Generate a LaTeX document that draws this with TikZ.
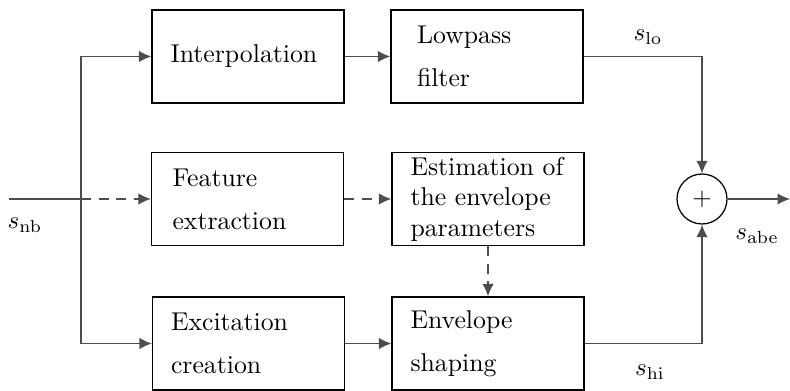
\documentclass[tikz,border=0pt]{standalone}
\usepackage{xcolor}
\usepackage{tikz}
\usepackage{amsmath}
\usetikzlibrary{
  arrows.meta,
  positioning,
  calc
}
\definecolor{bwLine}{HTML}{4D4D4D}
\definecolor{bwBox}{HTML}{000000}
\tikzset{
  bwbox/.style={
    draw=bwBox, minimum width=76.8pt, minimum height=37.2pt,
    text width=62pt, inner xsep=7.4pt, inner ysep=1.2pt, align=left,
    font=\fontsize{10.3}{12.2}\selectfont, line width=0.5pt
  },
  sumnode/.style={draw=bwBox, circle, minimum size=20pt, inner sep=0pt, line width=0.5pt},
  sig/.style={-{Latex[length=5pt, width=4.6pt]}, bwLine, line width=0.6pt},
  wire/.style={bwLine, line width=0.6pt},
  dsig/.style={sig, dash pattern=on 4pt off 3pt},
  tag/.style={font=\fontsize{10.3}{12.2}\selectfont, inner sep=1pt}
}
\begin{document}
\begin{tikzpicture}[x=0.4pt, y=-0.4pt]
  \useasboundingbox (0,0) rectangle (790,391);
  % blocks
  \node[bwbox] (interp) at (248,56.5) {Interpolation};
  \node[bwbox] (lowp)   at (487,56.5) {\hspace*{3pt}Lowpass\\[5pt]\hspace*{3pt}filter};
  \node[bwbox] (feat)   at (247.5,199) {\hspace*{1pt}Feature\\[5pt]\hspace*{1pt}extraction};
  \node[bwbox] (estim)  at (488,199) {Estimation of\\the envelope\\parameters};
  \node[bwbox] (excit)  at (248.5,343.5) {Excitation\\[5pt]creation};
  \node[bwbox] (shape)  at (488,343.5) {Envelope\\[5pt]shaping};
  \node[sumnode] (sum)  at (702,199) {$+$};
  % in/out points
  \coordinate (in)  at (9,199);
  \coordinate (br)  at (81,199);
  \coordinate (out) at (790,199);
  % connections
  \draw[wire] (in) -- (br);
  \draw[sig] (br) |- (interp.west);
  \draw[sig] (br) |- (excit.west);
  \draw[dsig] (br) -- (feat.west);
  \draw[sig] (interp) -- (lowp);
  \draw[dsig] (feat) -- (estim);
  \draw[dsig] (estim) -- (shape);
  \draw[sig] (excit) -- (shape);
  \draw[sig] (lowp.east) -| (sum.north);
  \draw[sig] (shape.east) -| (sum.south);
  \draw[sig] (sum.east) -- (out);
  % labels
  \node[tag] (lnb)  at (25,225)  {$s_{\mathrm{nb}}$};
  \node[tag] (llo)  at (648,37)  {$s_{\mathrm{lo}}$};
  \node[tag] (lhi)  at (650,372) {$s_{\mathrm{hi}}$};
  \node[tag] (labe) at (757,236) {$s_{\mathrm{abe}}$};
\end{tikzpicture}
\end{document}
